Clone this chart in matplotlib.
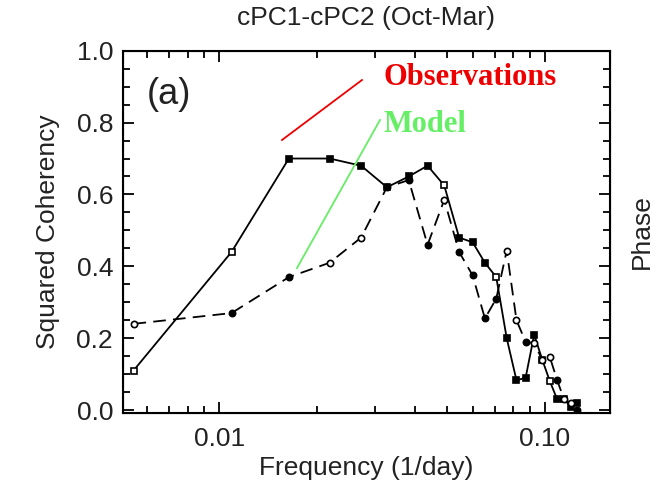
import matplotlib
matplotlib.use('Agg')
import matplotlib.pyplot as plt
import numpy as np

# frequencies are harmonics of the base frequency (1/day)
harmonic = np.arange(1, 24)
freq = harmonic * 0.00545

# squared coherency, observations (solid) and model (dashed)
obs = [0.11, 0.44, 0.70, 0.70, 0.68, 0.62, 0.65, 0.68, 0.625, 0.48, 0.467,
       0.41, 0.37, 0.20, 0.083, 0.09, 0.21, 0.14, 0.08, 0.03, 0.03, 0.01, 0.02]
obs_filled = [0, 0, 1, 1, 1, 1, 1, 1, 0, 1, 1,
              1, 0, 1, 1, 1, 1, 0, 0, 1, 1, 1, 1]
model = [0.24, 0.27, 0.37, 0.41, 0.48, 0.62, 0.64, 0.46, 0.585, 0.44, 0.375,
         0.255, 0.31, 0.444, 0.25, 0.19, 0.186, 0.14, 0.147, 0.083, 0.03, 0.02, 0.0]
model_filled = [0, 1, 1, 0, 0, 1, 1, 1, 0, 1, 1,
                1, 1, 0, 0, 1, 0, 0, 0, 1, 0, 0, 1]

plt.rcParams['font.family'] = ['Liberation Sans', 'DejaVu Sans']

fig = plt.figure(figsize=(6.57, 4.98), dpi=100)
ax = fig.add_axes([0.1868, 0.1707, 0.7417, 0.7275])


def plot_series(x, y, filled, ls, marker):
    '''Draw a line and its markers, some filled and some open'''
    x = np.asarray(x)
    y = np.asarray(y)
    f = np.asarray(filled, dtype=bool)
    if ls == '--':
        ax.plot(x, y, color='black', lw=1.3, ls=(0, (7, 4)))
    else:
        ax.plot(x, y, color='black', lw=1.3)
    ax.plot(x[f], y[f], ls='none', marker=marker, ms=4.5, mfc='black',
            mec='black', mew=1.2)
    ax.plot(x[~f], y[~f], ls='none', marker=marker, ms=4.5, mfc='white',
            mec='black', mew=1.2)


plot_series(freq, obs, obs_filled, '-', 's')
plot_series(freq, model, model_filled, '--', 'o')

ax.set_xscale('log')
ax.set_xlim(0.00505, 0.1584)
ax.set_ylim(-0.008, 1.0)
ax.set_xticks([0.01, 0.1])
ax.set_xticklabels(['0.01', '0.10'])
ax.set_yticks(np.arange(0, 1.01, 0.2))
ax.set_yticklabels([f'{v:.1f}' for v in np.arange(0, 1.01, 0.2)])
ax.set_yticks(np.arange(0, 1.0, 0.05), minor=True)
ax.tick_params(which='both', direction='in', labelsize=19, width=1.3,
               top=True, colors='black', labelcolor='#222222')
ax.tick_params(which='major', length=8, pad=7)
ax.tick_params(which='minor', length=5)
ax.tick_params(axis='x', pad=10)
ax.tick_params(axis='y', right=False)
for s in ax.spines.values():
    s.set_linewidth(1.5)

ax.set_xlabel('Frequency (1/day)', fontsize=19, color='#222222', labelpad=4)
ax.set_ylabel('Squared Coherency', fontsize=19, color='#222222', labelpad=12)

# right-hand phase axis (ticks only)
ax2 = ax.twinx()
ax2.set_ylim(-0.008, 1.0)
ax2.set_yticks(np.arange(0, 1.01, 0.2))
ax2.set_yticks(np.arange(0, 1.0, 0.05), minor=True)
ax2.set_yticklabels([])
ax2.tick_params(which='both', direction='in', width=1.3)
ax2.tick_params(which='major', length=8)
ax2.tick_params(which='minor', length=5)
ax2.set_ylabel('Phase', fontsize=19, color='#222222', labelpad=11)

fig.text(0.557, 0.964, 'cPC1-cPC2 (Oct-Mar)', fontsize=19, color='#222222',
         ha='center', va='center')
ax.text(0.05, 0.88, '(a)', transform=ax.transAxes, fontsize=26,
        color='#222222', ha='left', va='center')

# labels pointing at the two curves
fig.text(0.583, 0.845, 'Observations', fontsize=22, color='#ee0000',
         family='Liberation Serif', weight='bold', ha='left', va='center')
fig.text(0.583, 0.749, 'Model', fontsize=22, color='#66ee66',
         family='Liberation Serif', weight='bold', ha='left', va='center')
fig.add_artist(plt.Line2D([282 / 657, 362 / 657], [1 - 140 / 498, 1 - 80 / 498],
                          color='#ee0000', lw=1.3))
fig.add_artist(plt.Line2D([297 / 657, 380 / 657], [1 - 268 / 498, 1 - 120 / 498],
                          color='#66ee66', lw=1.3))

fig.savefig('out.png', dpi=100)
